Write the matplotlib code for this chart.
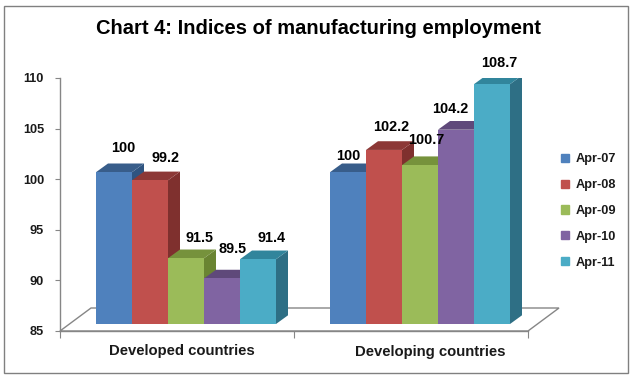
import numpy as np
import matplotlib
matplotlib.use('Agg')
import matplotlib.pyplot as plt
from matplotlib.patches import Polygon, Rectangle
from matplotlib.transforms import Affine2D

plt.rcParams['font.family'] = 'Liberation Sans'
plt.rcParams['font.weight'] = 'bold'

# data
categories = ['Developed countries', 'Developing countries']
months = ['Apr-07', 'Apr-08', 'Apr-09', 'Apr-10', 'Apr-11']
developed = [100, 99.2, 91.5, 89.5, 91.4]
developing = [100, 102.2, 100.7, 104.2, 108.7]
yticks = [85, 90, 95, 100, 105, 110]

front = ['#4F81BD', '#C0504D', '#9BBB59', '#8064A2', '#4BACC6']
top = ['#385D8A', '#8C3836', '#76923C', '#5F497A', '#31859C']
side = ['#2F5480', '#7F302E', '#6A8432', '#564172', '#2E6F85']

W, H = 633, 377
fig = plt.figure(figsize=(W / 100, H / 100), dpi=100, facecolor='white')
ax = fig.add_axes([60 / W, 1 - 331 / H, 468 / W, 253 / H])
ax.set_xlim(0, 2)
ax.set_ylim(85, 110)
ax.patch.set_visible(False)
for s in ['top', 'right']:
    ax.spines[s].set_visible(False)
for s in ['left', 'bottom']:
    ax.spines[s].set_color('#868686')
    ax.spines[s].set_linewidth(1)
ax.set_yticks(yticks)
ax.set_yticklabels([str(t) for t in yticks], fontsize=9.2, color='#1a1a1a')
ax.set_xticks([0, 1, 2])
ax.set_xticklabels([])
ax.tick_params(axis='y', length=3.6, color='#868686', pad=7.9)
ax.tick_params(axis='x', length=5, color='#868686')

# floor of the 3d box, in pixels
floor = [(60, 331), (91, 308), (559, 308), (528, 331)]
fig.add_artist(Polygon([(x / W, 1 - y / H) for x, y in floor], closed=True, facecolor='white',
                       edgecolor='#868686', linewidth=1, transform=fig.transFigure, zorder=-1))

# bars sit in front of the floor, shifted from the axis plane
shift = ax.transData + Affine2D().translate(9, 7)
bar_w = 36 / 234
depth_x = 12 / 234
depth_y = 8.7 * 25 / 253

for c, vals in enumerate([developed, developing]):
    for i, v in enumerate(vals):
        x0 = c + 0.5 + (i - 2.5) * bar_w
        x1 = x0 + bar_w
        ax.add_patch(Polygon([(x1, 85), (x1 + depth_x, 85 + depth_y), (x1 + depth_x, v + depth_y), (x1, v)],
                             facecolor=side[i], edgecolor='none', transform=shift, zorder=3 + i))
        ax.add_patch(Polygon([(x0, v), (x0 + depth_x, v + depth_y), (x1 + depth_x, v + depth_y), (x1, v)],
                             facecolor=top[i], edgecolor='none', transform=shift, zorder=3 + i))
        ax.bar(x0, v - 85, bar_w, bottom=85, align='edge', color=front[i], transform=shift, zorder=3 + i,
               clip_on=False)

# value labels, placed as in the original
label_px = [[(123, 148), (165, 158), (200, 238), (233, 249), (272, 238)],
            [(348, 156), (391, 127), (426, 140), (450, 109), (499, 63)]]
for c, vals in enumerate([developed, developing]):
    for i, v in enumerate(vals):
        fig.text(label_px[c][i][0] / W, 1 - label_px[c][i][1] / H, str(v), ha='center', va='center',
                 fontsize=10.4, color='black', zorder=10)

fig.text(182 / W, 1 - 351 / H, categories[0], ha='center', va='center', fontsize=10.7, color='#1a1a1a')
fig.text(430 / W, 1 - 352 / H, categories[1], ha='center', va='center', fontsize=10.7, color='#1a1a1a')
fig.text(318 / W, 1 - 28 / H, 'Chart 4: Indices of manufacturing employment', ha='center', va='center',
         fontsize=14.5, color='black')

handles = [Rectangle((0, 0), 1, 1, color=c) for c in front]
fig.legend(handles, months, loc='center left', bbox_to_anchor=(561 / W, 1 - 211 / H), frameon=False,
           fontsize=9.2, handlelength=0.63, handleheight=0.63, handletextpad=0.5, labelspacing=1.08,
           borderpad=0, borderaxespad=0, labelcolor='#1a1a1a')

# chart border
fig.add_artist(Rectangle((4 / W, 1 - 373 / H), 624 / W, 367 / H, fill=False, edgecolor='#808080',
                         linewidth=1, transform=fig.transFigure, zorder=-2))

fig.savefig('out.png', dpi=100)
